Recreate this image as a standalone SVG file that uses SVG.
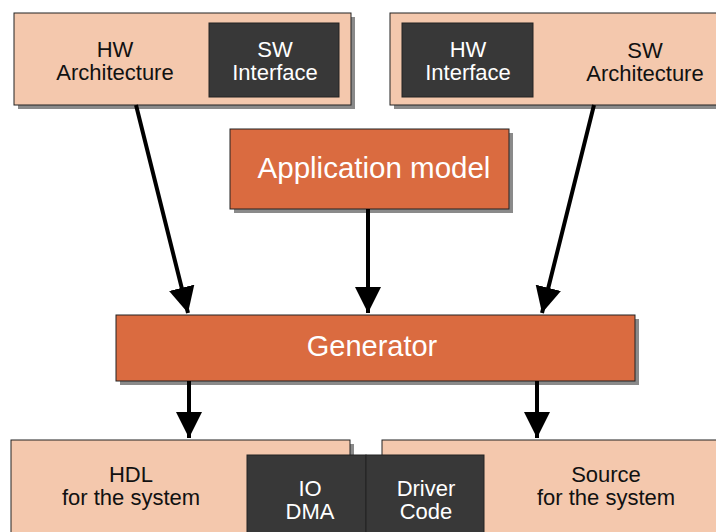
<svg xmlns="http://www.w3.org/2000/svg" width="716" height="532" viewBox="0 0 716 532">
<style>
.light{fill:#F4C8AD;stroke:#222;stroke-width:1}
.dark{fill:#383838;stroke:#222;stroke-width:1}
.orange{fill:#DA6B40;stroke:#222;stroke-width:1}
.shadow{fill:#8a8a8a}
text{font-family:"Liberation Sans",Arial,sans-serif;text-anchor:middle}
.t20{font-size:22px}
.blk{fill:#111}
.wht{fill:#fff}
.conn{stroke:#000;stroke-width:4;fill:none}
</style>
<defs>
<marker id="ah" viewBox="0 0 10 10" refX="10" refY="5" markerWidth="6.5" markerHeight="6.5" markerUnits="strokeWidth" orient="auto">
<path d="M0,0 L10,5 L0,10 Z" fill="#000"/>
</marker>
</defs>
<rect width="716" height="532" fill="#fff"/>
<g id="hw-arch">
<rect class="shadow" x="18" y="17" width="337" height="92"/>
<rect class="light" x="14" y="13" width="337" height="92"/>
<text class="t20 blk" x="115" y="57">HW</text>
<text class="t20 blk" x="115" y="80">Architecture</text>
</g>
<g id="sw-interface">
<rect class="dark" x="209" y="23" width="130" height="74"/>
<text class="t20 wht" x="275" y="57">SW</text>
<text class="t20 wht" x="275" y="80">Interface</text>
</g>
<g id="sw-arch">
<rect class="shadow" x="394" y="17" width="330" height="92"/>
<rect class="light" x="390" y="13" width="334" height="92"/>
<text class="t20 blk" x="645" y="58">SW</text>
<text class="t20 blk" x="645" y="81">Architecture</text>
</g>
<g id="hw-interface">
<rect class="dark" x="402" y="23" width="131" height="74"/>
<text class="t20 wht" x="468" y="57">HW</text>
<text class="t20 wht" x="468" y="80">Interface</text>
</g>
<g id="app-model">
<rect class="shadow" x="234" y="133" width="279" height="80"/>
<rect class="orange" x="230" y="129" width="279" height="80"/>
<text class="wht" x="374" y="178" font-size="29.5">Application model</text>
</g>
<g id="generator">
<rect class="shadow" x="120" y="319" width="519" height="66"/>
<rect class="orange" x="116" y="315" width="519" height="66"/>
<text class="wht" x="372" y="356" font-size="29">Generator</text>
</g>
<g id="hdl">
<rect class="shadow" x="15" y="444" width="339" height="92"/>
<rect class="light" x="11" y="440" width="339" height="96"/>
<text class="t20 blk" x="131" y="482">HDL</text>
<text class="t20 blk" x="131" y="505">for the system</text>
</g>
<g id="source">
<rect class="light" x="382" y="440" width="340" height="96"/>
<text class="t20 blk" x="606" y="482">Source</text>
<text class="t20 blk" x="606" y="505">for the system</text>
</g>
<g id="io-dma">
<rect class="dark" x="247" y="455" width="119" height="81"/>
<text class="t20 wht" x="310" y="496">IO</text>
<text class="t20 wht" x="310" y="519">DMA</text>
</g>
<g id="driver-code">
<rect class="dark" x="366" y="455" width="118" height="81"/>
<text class="t20 wht" x="426" y="496">Driver</text>
<text class="t20 wht" x="426" y="519">Code</text>
</g>
<g id="connectors">
<line class="conn" x1="136" y1="105" x2="188" y2="313" marker-end="url(#ah)"/>
<line class="conn" x1="368" y1="209" x2="368" y2="313" marker-end="url(#ah)"/>
<line class="conn" x1="594" y1="105" x2="542" y2="313" marker-end="url(#ah)"/>
<line class="conn" x1="189" y1="381" x2="189" y2="438" marker-end="url(#ah)"/>
<line class="conn" x1="537" y1="381" x2="537" y2="438" marker-end="url(#ah)"/>
</g>
</svg>
